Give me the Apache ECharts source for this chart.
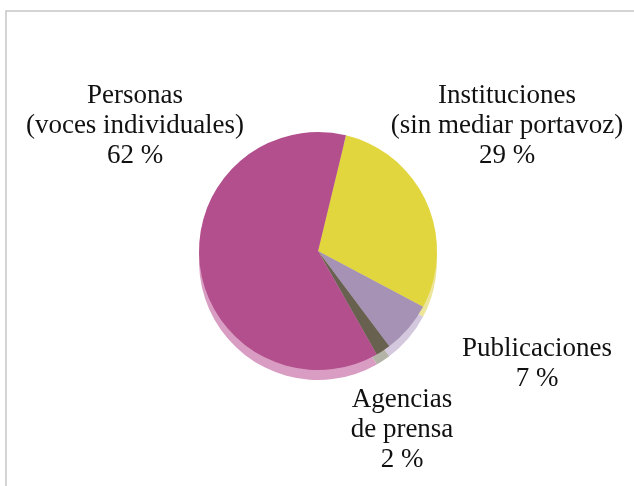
<!DOCTYPE html>
<html>
<head>
<meta charset="utf-8">
<script src="https://cdn.jsdelivr.net/npm/echarts@6/dist/echarts.min.js"></script>
<style>
  html, body { margin: 0; padding: 0; background: #fff; }
  #chart { width: 634px; height: 486px; }
</style>
</head>
<body>
<div id="chart"></div>
<script>
// data
const categories = [
  'Instituciones\n(sin mediar portavoz)',
  'Publicaciones',
  'Agencias\nde prensa',
  'Personas\n(voces individuales)',
]
const shares = [29, 7, 2, 62]

// colours: top face and the lighter "side" of the disc
const faceColors = ['#e2d63e', '#a592b5', '#68614f', '#b24f8c']
const sideColors = ['#ece59a', '#d4c8de', '#b3b3a8', '#d99cc3']

// where each label block sits (centre of the text)
const labelPos = [
  [507, 126],
  [537, 364],
  [402, 430],
  [135, 126],
]

const chart = echarts.init(document.getElementById('chart'))

const pieData = categories.map((name, i) => ({ name, value: shares[i] }))
const startAngle = 76.4
const radius = 119

chart.setOption({
  animation: false,
  graphic: [
    {
      type: 'rect',
      shape: { x: 6, y: 11, width: 700, height: 600 },
      style: { fill: 'none', stroke: '#c6c6c6', lineWidth: 1.5 },
      z: 0,
    },
  ],
  series: [
    {
      // extruded side of the disc
      type: 'pie',
      center: [318, 261],
      radius: radius,
      startAngle: startAngle,
      silent: true,
      z: 1,
      label: { show: false },
      labelLine: { show: false },
      data: pieData.map((d, i) => ({ ...d, itemStyle: { color: sideColors[i] } })),
    },
    {
      type: 'pie',
      center: [318, 251],
      radius: radius,
      startAngle: startAngle,
      z: 2,
      itemStyle: { borderWidth: 0 },
      label: {
        show: true,
        position: 'outside',
        formatter: '{b}\n{c} %',
        fontFamily: '"Liberation Serif", serif',
        fontSize: 27,
        lineHeight: 30,
        color: '#111',
        align: 'center',
        overflow: 'none',
        width: 300,
      },
      labelLine: { show: false },
      labelLayout: (params) => ({
        x: labelPos[params.dataIndex][0],
        y: labelPos[params.dataIndex][1],
        align: 'center',
        verticalAlign: 'middle',
      }),
      data: pieData.map((d, i) => ({ ...d, itemStyle: { color: faceColors[i] } })),
    },
  ],
})
</script>
</body>
</html>
